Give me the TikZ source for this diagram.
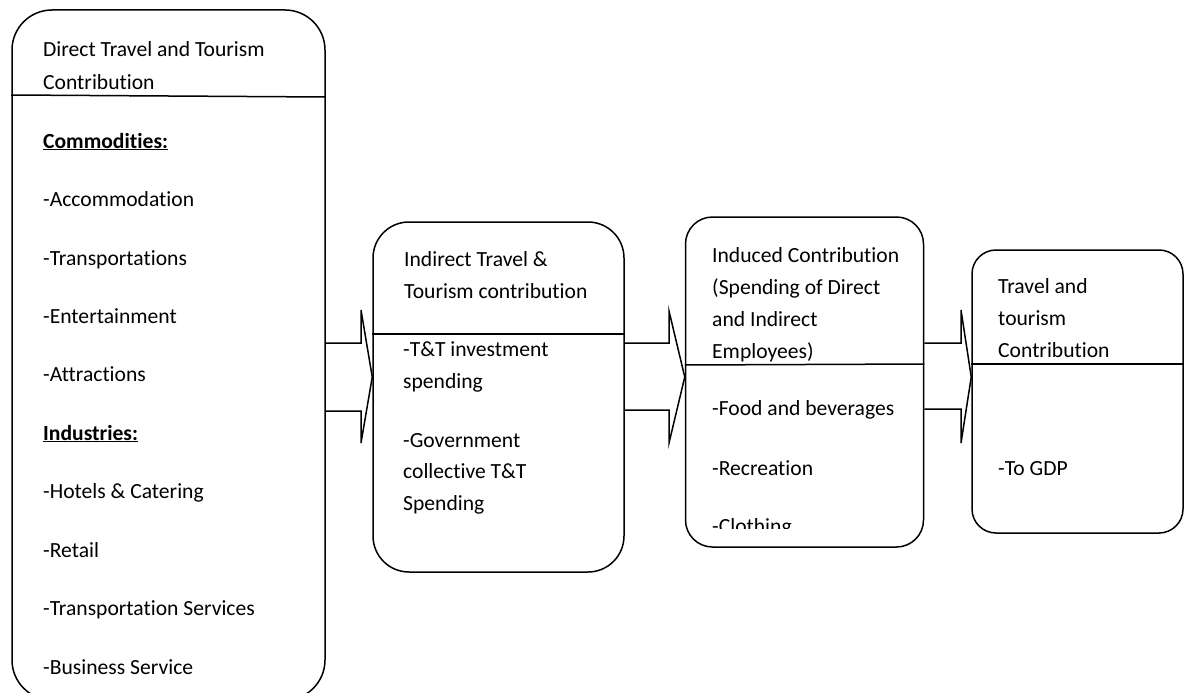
\documentclass[tikz,border=0pt]{standalone}
\usepackage{fontspec}
\setmainfont{Carlito}[Ligatures={NoCommon,NoContextual}]
\begin{document}
\begin{tikzpicture}[x=1pt,y=-1pt,
  box/.style={draw=black, line width=1.5pt, inner sep=0pt},
  divline/.style={draw=black, line width=1.5pt},
  flow/.style={draw=black, line width=1.5pt, line join=miter},
  txt/.style={anchor=base west, inner sep=0pt, font=\fontsize{21.6}{31.6}\selectfont}]
\useasboundingbox (0,0) rectangle (1186,693);
% boxes
\node[box, rounded corners=40pt, minimum width=313pt, minimum height=690pt] (b1) at (168.5,355) {};
\node[box, rounded corners=36pt, minimum width=251pt, minimum height=350pt] (b2) at (498.5,397) {};
\node[box, rounded corners=27pt, minimum width=238pt, minimum height=330pt] (b3) at (804.5,382) {};
\node[box, rounded corners=24pt, minimum width=211pt, minimum height=283pt] (b4) at (1077.5,391.5) {};
% dividers
\draw[divline] (b1.west |- 0,95) -- (b1.east |- 0,97);
\draw[divline] (b2.west |- 0,334) -- (b2.east |- 0,334);
\draw[divline] (b3.west |- 0,365) -- (b3.east |- 0,364);
\draw[divline] (b4.west |- 0,364) -- (b4.east |- 0,364);
% arrows
\draw[flow] (b1.east |- 0,343) -- (361,343) -- (361,310) -- (b2.west |- 0,377)
  -- (361,443) -- (361,411) -- (b1.east |- 0,411);
\draw[flow] (b2.east |- 0,343) -- (669,343) -- (669,311) -- (b3.west |- 0,377)
  -- (669,443) -- (669,410) -- (b2.east |- 0,410);
\draw[flow] (b3.east |- 0,343) -- (961,343) -- (961,310) -- (b4.west |- 0,377)
  -- (961,443) -- (961,409) -- (b3.east |- 0,409);
% box 1 text
\node[txt] (t1a) at (43,57) {Direct Travel and Tourism};
\node[txt] (t1b) at (43,89) {Contribution};
\node[txt] (t1c) at (43,148) {\underline{\textbf{Commodities:}}};
\node[txt] (t1d) at (43,206.5) {-Accommodation};
\node[txt] (t1e) at (43,265) {-Transportations};
\node[txt] (t1f) at (43,323) {-Entertainment};
\node[txt] (t1g) at (43,381.5) {-Attractions};
\node[txt] (t1h) at (43,440) {\underline{\textbf{Industries:}}};
\node[txt] (t1i) at (43,498.5) {-Hotels \& Catering};
\node[txt] (t1j) at (43,557) {-Retail};
\node[txt] (t1k) at (43,615.5) {-Transportation Services};
\node[txt] (t1l) at (43,674) {-Business Service};
% box 2 text
\node[txt] (t2a) at (404,266) {Indirect Travel \&};
\node[txt] (t2b) at (404,298) {Tourism contribution};
\node[txt] (t2c) at (403,356) {-T\&T investment};
\node[txt] (t2d) at (403,388) {spending};
\node[txt] (t2e) at (403,447) {-Government};
\node[txt] (t2f) at (403,478.5) {collective T\&T};
\node[txt] (t2g) at (403,510) {Spending};
% box 3 text
\node[txt] (t3a) at (712,262) {Induced Contribution};
\node[txt] (t3b) at (712,294) {(Spending of Direct};
\node[txt] (t3c) at (712,326) {and Indirect};
\node[txt] (t3d) at (712,358) {Employees)};
\node[txt] (t3e) at (712,415) {-Food and beverages};
\node[txt] (t3f) at (712,475) {-Recreation};
\begin{scope}
\clip (700,500) rectangle (900,528);
\node[txt] (t3g) at (712,533) {-Clothing};
\end{scope}
% box 4 text
\node[txt] (t4a) at (998,293) {Travel and};
\node[txt] (t4b) at (998,325) {tourism};
\node[txt] (t4c) at (998,357) {Contribution};
\node[txt] (t4d) at (998,475) {-To GDP};
\end{tikzpicture}
\end{document}
